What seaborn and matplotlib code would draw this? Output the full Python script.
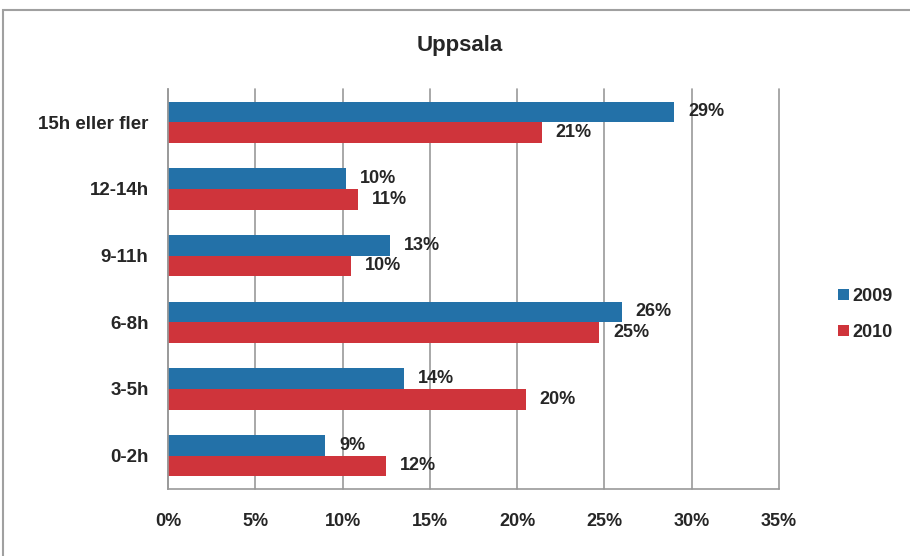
import numpy as np
import pandas as pd
import seaborn as sns
import matplotlib.pyplot as plt
from matplotlib.patches import Rectangle

categories = ["15h eller fler", "12-14h", "9-11h", "6-8h", "3-5h", "0-2h"]
years = ["2009", "2010"]
values_2009 = [0.290, 0.102, 0.127, 0.260, 0.135, 0.090]
values_2010 = [0.214, 0.109, 0.105, 0.247, 0.205, 0.125]
labels_2009 = ["29%", "10%", "13%", "26%", "14%", "9%"]
labels_2010 = ["21%", "11%", "10%", "25%", "20%", "12%"]
xticks = [0, 0.05, 0.10, 0.15, 0.20, 0.25, 0.30, 0.35]
xtick_labels = ["0%", "5%", "10%", "15%", "20%", "25%", "30%", "35%"]

df = pd.DataFrame({
    "kategori": categories * 2,
    "år": [years[0]] * len(categories) + [years[1]] * len(categories),
    "andel": values_2009 + values_2010,
})

sns.set_style("white")
plt.rcParams["font.family"] = ["Liberation Sans", "DejaVu Sans"]
plt.rcParams["font.weight"] = "bold"

fig = plt.figure(figsize=(9.1, 5.56), dpi=100)
ax = fig.add_axes([0.1846, 0.1205, 0.6714, 0.7195])

palette = {"2009": "#2371a8", "2010": "#cf343b"}
sns.barplot(data=df, x="andel", y="kategori", hue="år", order=categories,
            hue_order=years, palette=palette, width=0.62, saturation=1,
            linewidth=0, ax=ax, legend=True)

# procentetiketter till höger om staplarna
for cont, labs in zip(ax.containers, [labels_2009, labels_2010]):
    ax.bar_label(cont, labels=labs, padding=10, fontsize=13, fontweight="bold")

ax.set_xlim(0, 0.35)
ax.set_ylim(len(categories) - 0.5, -0.5)
ax.set_xticks(xticks)
ax.set_xticklabels(xtick_labels, fontsize=13, fontweight="bold")
ax.tick_params(axis="x", length=3, color="#999999", pad=14)
ax.tick_params(axis="y", which="major", length=0, pad=14, labelsize=13.5)
ax.set_yticks(np.arange(-0.5, len(categories)), minor=True)
ax.tick_params(axis="y", which="minor", length=4, color="#999999")
ax.grid(axis="x", color="#999999", lw=1.2)
for gl in ax.get_xgridlines():
    gl.set_clip_on(False)
ax.set_axisbelow(True)
ax.set_xlabel("")
ax.set_ylabel("")
for s in ["top", "right"]:
    ax.spines[s].set_visible(False)
for s in ["left", "bottom"]:
    ax.spines[s].set_color("#999999")
    ax.spines[s].set_linewidth(1.2)

ax.legend(loc="center left", bbox_to_anchor=(0.911, 0.435),
          bbox_transform=fig.transFigure, frameon=False, fontsize=13,
          handlelength=0.6, handleheight=0.6, handletextpad=0.2,
          labelspacing=1.05, borderpad=0)

fig.text(0.505, 0.919, "Uppsala", ha="center", va="center", fontsize=16,
         fontweight="bold")

# grå ram runt diagrammet
fig.patches.append(Rectangle((0.0033, -0.1), 1.2, 1.082,
                             transform=fig.transFigure, fill=False,
                             edgecolor="#a0a0a0", lw=1.5))

fig.savefig("out.png", dpi=100)
